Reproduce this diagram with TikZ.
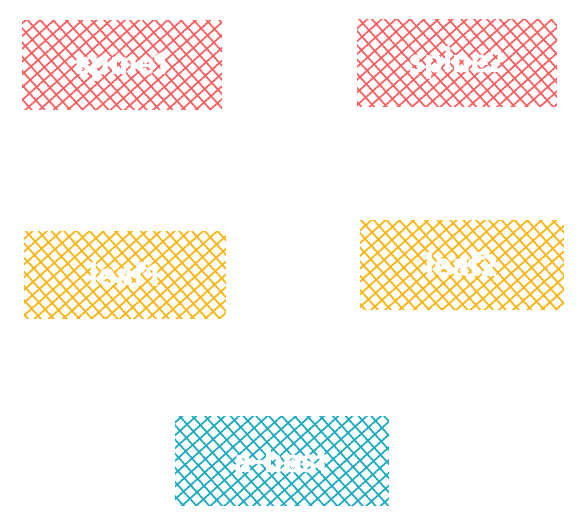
\documentclass[tikz,border=0pt]{standalone}
\usepackage{fontspec}
\setmainfont{Fira Sans}
\usetikzlibrary{patterns.meta}
\definecolor{cred}{HTML}{FA6062}
\definecolor{cyel}{HTML}{FAB50F}
\definecolor{ccyan}{HTML}{1AABC0}
\tikzset{
  hbox/.style={rectangle, draw=white, line width=2.5pt, inner sep=0pt,
    font=\fontsize{32}{34}\selectfont\bfseries, text=white,
    preaction={pattern={Lines[angle=42,distance=9.5pt,line width=1.7pt]}, pattern color=#1},
    pattern={Lines[angle=-48,distance=9.5pt,line width=1.7pt]}, pattern color=#1},
  sz/.style 2 args={minimum width=#1pt, minimum height=#2pt}
}
\begin{document}
\begin{tikzpicture}[x=1pt,y=-1pt]
\useasboundingbox[fill=white] (0,0) rectangle (582,529);
\node[hbox=cred, sz={202}{92}] (spine1) at (122,65) {spine1};
\node[hbox=cred, sz={202}{90}] (spine2) at (457,63) {spine2};
\node[hbox=cyel, sz={204}{90}] (leaf1) at (125,275) {leaf1};
\node[hbox=cyel, sz={206}{92}] (leaf2) at (462,265) {leaf2};
\node[hbox=ccyan, sz={216}{92}] (host) at (282,461) {a-host};
\end{tikzpicture}
\end{document}
